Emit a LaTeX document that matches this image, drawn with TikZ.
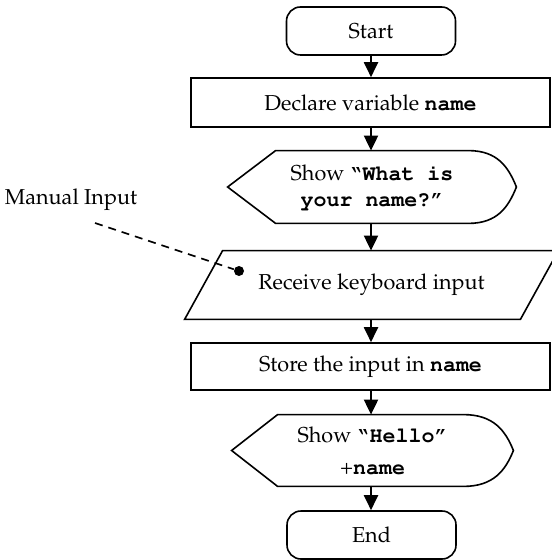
\documentclass[tikz,border=0pt]{standalone}
\usepackage[T1]{fontenc}
\usepackage{mathpazo}
\renewcommand{\ttdefault}{pcr}
\usetikzlibrary{arrows.meta}
\tikzset{
  box/.style={draw, line width=0.8pt, minimum width=179.5pt, minimum height=24.5pt, inner sep=0pt},
  terminal/.style={box, rounded corners=7pt, minimum width=84.5pt, minimum height=24pt},
  frame/.style={inner sep=0pt, align=center},
  outline/.style={line width=0.8pt},
  flow/.style={line width=1pt, -{Triangle[width=7pt,length=7.5pt]}},
  dot/.style={circle, fill, inner sep=0pt, minimum size=5pt},
}
\newcommand{\code}[1]{\texttt{\textbf{#1}}}

\begin{document}
\begin{tikzpicture}[x=0.5pt,y=-0.5pt,font=\fontsize{10.8}{13}\selectfont]
\useasboundingbox (0,0) rectangle (551,560);
% flow steps
\node[terminal] (start) at (371,31) {Start};
\node[box] (declare) at (370.5,102.5) {Declare variable \code{name}};
\node[frame, minimum width=144pt, minimum height=36pt] (show1) at (372,187) {Show \code{\textquotedblleft What is}\\\code{your name?\textquotedblright}};
\node[frame, minimum width=186.5pt, minimum height=34pt] (input) at (371.5,285) {Receive keyboard input};
\node[box, minimum height=23.5pt] (store) at (370.5,366.5) {Store the input in \code{name}};
\node[frame, minimum width=140.5pt, minimum height=35.5pt] (show2) at (372.5,450.5) {Show \code{\textquotedblleft Hello\textquotedblright}\\[3pt]+\code{name}};
\node[terminal] (stop) at (371.5,535) {End};
% display and input outlines
\draw[outline] (show1.west) -- ([xshift=24pt]show1.north west) -- ([xshift=-24pt]show1.north east)
  .. controls +(29,0) and +(-8,-20) .. (show1.east)
  .. controls +(-8,20) and +(29,0) .. ([xshift=-24pt]show1.south east)
  -- ([xshift=24pt]show1.south west) -- cycle;
\draw[outline] (show2.west) -- ([xshift=23pt]show2.north west) -- ([xshift=-25pt]show2.north east)
  .. controls +(30,0) and +(-8,-20) .. (show2.east)
  .. controls +(-8,20) and +(30,0) .. ([xshift=-25pt]show2.south east)
  -- ([xshift=23pt]show2.south west) -- cycle;
\draw[outline] ([xshift=19pt]input.north west) -- (input.north east)
  -- ([xshift=-19pt]input.south east) -- (input.south west) -- cycle;
% arrows
\foreach \a/\b in {start/declare, declare/show1, show1/input, input/store, store/show2, show2/stop}
  \draw[flow] (\a.south -| start) -- (\b.north -| start);
% annotation
\node (note) at (71,200) {Manual Input};
\coordinate (lead) at (95,223);
\node[dot] (pin) at (239,271) {};
\draw[dash pattern=on 4pt off 3pt, line width=0.8pt] (lead) -- (pin);
\end{tikzpicture}
\end{document}
